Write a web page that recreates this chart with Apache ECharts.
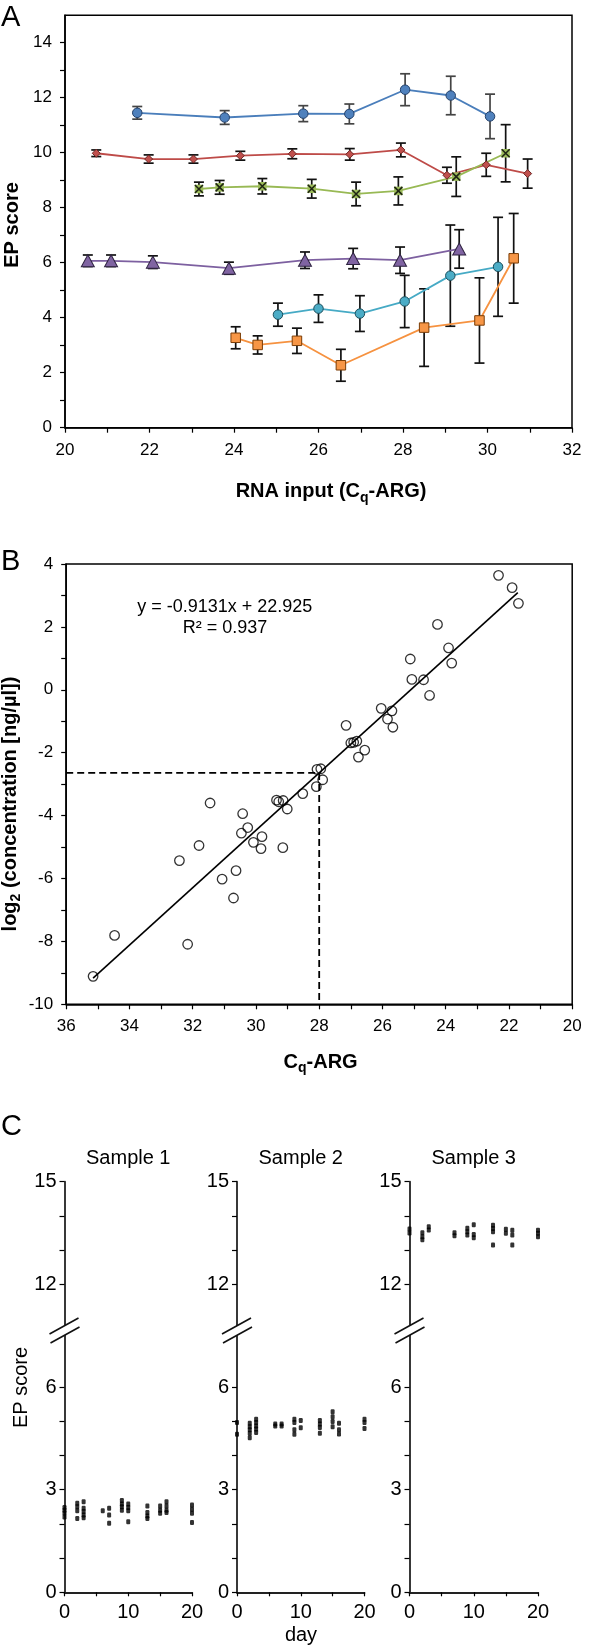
<!DOCTYPE html>
<html><head><meta charset="utf-8">
<script src="https://cdn.jsdelivr.net/npm/echarts@6/dist/echarts.min.js"></script>
<style>html,body{margin:0;padding:0;background:#fff}#c{width:600px;height:1646px}</style>
</head><body><div id="c"></div>
<script>
const F = "'Liberation Sans', Arial, Helvetica, sans-serif";

// ---------- Panel A data ----------
const aXTicks = [20,21,22,23,24,25,26,27,28,29,30,31,32];
const aXLabels = [20,22,24,26,28,30,32];
const aYTicks = [0,1,2,3,4,5,6,7,8,9,10,11,12,13,14];
const aYLabels = [0,2,4,6,8,10,12,14];

const blueX = [21.71, 23.78, 25.64, 26.73, 28.05, 29.13, 30.06];
const blueY = [11.45, 11.28, 11.42, 11.41, 12.29, 12.08, 11.32];
const blueErr = [0.23, 0.25, 0.29, 0.36, 0.58, 0.70, 0.81];

const redX = [20.74, 21.98, 23.04, 24.15, 25.38, 26.74, 27.95, 29.04, 29.97, 30.95];
const redY = [9.98, 9.77, 9.77, 9.89, 9.96, 9.94, 10.10, 9.18, 9.56, 9.24];
const redErr = [0.12, 0.15, 0.15, 0.16, 0.18, 0.21, 0.25, 0.29, 0.42, 0.53];

const greenX = [23.17, 23.66, 24.67, 25.84, 26.89, 27.89, 29.26, 30.43];
const greenY = [8.68, 8.74, 8.78, 8.69, 8.50, 8.61, 9.13, 9.98];
const greenErr = [0.25, 0.25, 0.28, 0.34, 0.43, 0.51, 0.72, 1.04];

const purpleX = [20.54, 21.09, 22.08, 23.88, 25.68, 26.82, 27.93, 29.33];
const purpleY = [6.07, 6.07, 6.02, 5.80, 6.09, 6.15, 6.09, 6.50];
const purpleErr = [0.21, 0.21, 0.23, 0.22, 0.30, 0.37, 0.48, 0.70];

const cyanX = [25.04, 26.00, 26.98, 28.04, 29.12, 30.25];
const cyanY = [4.11, 4.33, 4.15, 4.59, 5.53, 5.85];
const cyanErr = [0.42, 0.50, 0.65, 0.95, 1.84, 1.80];

const orangeX = [24.04, 24.56, 25.49, 26.53, 28.50, 29.81, 30.62];
const orangeY = [3.27, 3.01, 3.16, 2.27, 3.64, 3.90, 6.16];
const orangeErr = [0.40, 0.33, 0.46, 0.58, 1.41, 1.55, 1.63];

// ---------- Panel B data ----------
const bXTicks = [20,21,22,23,24,25,26,27,28,29,30,31,32,33,34,35,36];
const bXLabels = [20,22,24,26,28,30,32,34,36];
const bYTicks = [-10,-9,-8,-7,-6,-5,-4,-3,-2,-1,0,1,2,3,4];
const bYLabels = [-10,-8,-6,-4,-2,0,2,4];

const bCq = [23.91,23.81,25.12,25.07,24.70,24.51,26.04,25.70,25.84,25.67,
             27.15,27.00,26.91,26.81,26.56,26.76,28.07,27.95,27.89,28.09,
             28.52,29.35,29.28,29.14,29.01,31.45,30.42,30.26,30.46,29.81,
             30.08,29.84,29.15,31.80,32.42,30.63,31.07,30.71,34.47,32.16,
             35.15,24.26,22.33,21.90,21.70];
const bLog = [1.33,0.85,0.98,0.33,0.32,-0.18,-0.59,-0.67,-0.93,-1.19,
              -1.13,-1.69,-1.67,-1.63,-1.92,-2.14,-2.53,-2.51,-2.86,-3.08,
              -3.30,-3.51,-3.56,-3.52,-3.79,-3.60,-3.94,-4.38,-4.56,-4.67,
              -4.85,-5.05,-5.02,-4.95,-5.43,-5.75,-6.02,-6.62,-7.81,-8.09,
              -9.11,2.08,3.64,3.25,2.75];
const fitSlope = -0.9131;
const fitIntercept = 22.925;
const fitXRange = [35.15, 21.72];
const cutoffCq = 28;

// ---------- Panel C data ----------
const cXTicks = [0,5,10,15,20];
const cXLabels = [0,10,20];
const cYTickValues = [0,1,2,3,4,5,6,12,13,14,15];
const cYLabelValues = [0,3,6,12,15];
const breakLow = 6, breakHigh = 12, breakGap = 3;
const sampleNames = ['Sample 1','Sample 2','Sample 3'];

const s1Day = [0,0,0,0, 2,2,2,2, 3,3,3,3,3, 6, 7,7,7, 9,9,9,9, 10,10,10,10, 13,13,13,13, 15,15,15, 16,16,16,16, 20,20,20,20];
const s1Score = [2.48,2.40,2.32,2.20, 2.60,2.50,2.38,2.16, 2.65,2.46,2.36,2.26,2.18, 2.38, 2.46,2.26,2.02, 2.68,2.58,2.50,2.40, 2.58,2.48,2.38,2.06, 2.52,2.33,2.23,2.16, 2.52,2.40,2.31, 2.65,2.52,2.40,2.33, 2.55,2.43,2.31,2.04];
const s2Day = [0,0, 2,2,2,2,2, 3,3,3,3,3, 6,6, 7,7, 9,9,9,9, 10,10, 13,13,13,13, 15,15,15,15, 16,16,16, 20,20,20];
const s2Score = [4.96,4.62, 4.94,4.84,4.75,4.65,4.52, 5.06,4.96,4.86,4.77,4.67, 4.92,4.86, 4.92,4.86, 5.06,4.96,4.75,4.62, 5.02,4.81, 5.02,4.92,4.82,4.65, 5.28,5.13,4.99,4.84, 4.94,4.75,4.63, 5.06,4.96,4.79];
const s3Day = [0,0, 2,2,2, 3,3, 7,7, 9,9,9, 10,10,10, 13,13,13,13, 15,15, 16,16,16, 20,20,20];
const s3Score = [13.62,13.50, 13.51,13.39,13.30, 13.68,13.59, 13.51,13.42, 13.64,13.54,13.44, 13.74,13.46,13.36, 13.73,13.63,13.54,13.15, 13.61,13.49, 13.58,13.44,13.15, 13.58,13.49,13.39];

// ---------- helpers ----------
const zip = (xs, ys) => xs.map((x, i) => [x, ys[i]]);
const zip3 = (xs, ys, es) => xs.map((x, i) => [x, ys[i], es[i]]);
const toAxis = v => v <= breakLow ? v : v - (breakHigh - breakLow) + breakGap;
const fromAxis = v => v <= breakLow ? v : v + (breakHigh - breakLow) - breakGap;

function mkAxis(grid, min, max, ticks, labels, o) {
  o = o || {};
  return Object.assign({
    type: 'value', gridIndex: grid, min: min, max: max,
    axisLine: {show: true, onZero: false, lineStyle: {color: o.lineColor || '#000', width: o.lineWidth || 1.5}},
    axisTick: {show: true, length: o.tickLen || 5, customValues: ticks, lineStyle: {color: '#000', width: 1.2}},
    axisLabel: {show: true, customValues: labels, formatter: o.fmt, color: '#000', fontFamily: F,
                fontSize: o.fontSize || 17, margin: o.margin || 14},
    splitLine: {show: false}
  }, o.rest || {});
}

function errSeries(xs, ys, es, color, axisIdx) {
  return {
    type: 'custom', xAxisIndex: axisIdx, yAxisIndex: axisIdx, z: 2,
    data: zip3(xs, ys, es),
    encode: {x: 0, y: 1},
    renderItem: function (params, api) {
      const x = api.value(0), y = api.value(1), e = api.value(2);
      const t = api.coord([x, y + e]), b = api.coord([x, y - e]);
      const w = 5;
      const st = {stroke: color, lineWidth: 1.7};
      return {type: 'group', children: [
        {type: 'line', shape: {x1: t[0], y1: t[1], x2: b[0], y2: b[1]}, style: st},
        {type: 'line', shape: {x1: t[0] - w, y1: t[1], x2: t[0] + w, y2: t[1]}, style: st},
        {type: 'line', shape: {x1: b[0] - w, y1: b[1], x2: b[0] + w, y2: b[1]}, style: st}
      ]};
    }
  };
}

function lineSeries(xs, ys, lineColor, symbol, size, fill, border) {
  return {
    type: 'line', xAxisIndex: 0, yAxisIndex: 0, z: 3,
    data: zip(xs, ys), symbol: symbol, symbolSize: size, showSymbol: true,
    lineStyle: {color: lineColor, width: 1.8},
    itemStyle: {color: fill, borderColor: border, borderWidth: border ? 1 : 0},
    animation: false
  };
}

const chart = echarts.init(document.getElementById('c'), null, {renderer: 'canvas'});

const grids = [
  {left: 65, top: 15.2, width: 507, height: 412.5, show: true, borderColor: '#000', borderWidth: 1.5, backgroundColor: 'transparent'},
  {left: 66.2, top: 564, width: 506, height: 440.3, show: true, borderColor: '#000', borderWidth: 1.5, backgroundColor: 'transparent'},
  {left: 64.5, top: 1181.7, width: 127.5, height: 410.6},
  {left: 237, top: 1181.7, width: 127.5, height: 410.6},
  {left: 409.5, top: 1181.7, width: 128.5, height: 410.6}
];

const xAxes = [
  mkAxis(0, 20, 32, aXTicks, aXLabels, {margin: 14}),
  mkAxis(1, 20, 36, bXTicks, bXLabels, {margin: 14, rest: {inverse: true}}),
];
const yAxes = [
  mkAxis(0, 0, 15, aYTicks, aYLabels, {margin: 13}),
  mkAxis(1, -10, 4, bYTicks, bYLabels, {margin: 13}),
];
for (let i = 0; i < 3; i++) {
  xAxes.push(mkAxis(2 + i, 0, 20, cXTicks, cXLabels, {fontSize: 20, margin: 10, tickLen: 4, lineColor: '#222', lineWidth: 1.8}));
  yAxes.push(mkAxis(2 + i, 0, toAxis(15), cYTickValues.map(toAxis), cYLabelValues.map(toAxis),
    {fontSize: 20, margin: 8, tickLen: 5, lineColor: '#222', lineWidth: 1.8, fmt: v => String(Math.round(fromAxis(v)))}));
}

const fitData = fitXRange.map(x => [x, fitSlope * x + fitIntercept]);
const cutY = fitSlope * cutoffCq + fitIntercept;

const series = [
  errSeries(blueX, blueY, blueErr, '#444', 0),
  errSeries(redX, redY, redErr, '#111', 0),
  errSeries(greenX, greenY, greenErr, '#111', 0),
  errSeries(purpleX, purpleY, purpleErr, '#111', 0),
  errSeries(cyanX, cyanY, cyanErr, '#111', 0),
  errSeries(orangeX, orangeY, orangeErr, '#111', 0),
  lineSeries(blueX, blueY, '#4A7EBB', 'circle', 9.5, '#4F81BD', '#24416A'),
  lineSeries(redX, redY, '#BE4B48', 'diamond', 8, '#C0504D', '#6E2725'),
  lineSeries(greenX, greenY, '#98B954', 'rect', 8.5, '#9BBB59', null),
  {type: 'scatter', xAxisIndex: 0, yAxisIndex: 0, z: 4, data: zip(greenX, greenY),
   symbol: 'path://M0,0L10,10M10,0L0,10', symbolSize: 8,
   itemStyle: {color: 'rgba(0,0,0,0)', borderColor: '#000', borderWidth: 1.6}},
  lineSeries(purpleX, purpleY, '#7D60A0', 'triangle', [13, 12], '#8064A2', '#2E2340'),
  lineSeries(cyanX, cyanY, '#46AAC5', 'circle', 9.5, '#4BACC6', '#1B4E5C'),
  lineSeries(orangeX, orangeY, '#F69240', 'rect', 9.5, '#F79646', '#7A3D07'),
  // Panel B
  {type: 'scatter', xAxisIndex: 1, yAxisIndex: 1, z: 3, data: zip(bCq, bLog),
   symbol: 'circle', symbolSize: 9.5,
   itemStyle: {color: 'rgba(0,0,0,0)', borderColor: '#000', borderWidth: 1.3}},
  {type: 'line', xAxisIndex: 1, yAxisIndex: 1, z: 4, data: fitData, symbol: 'none',
   lineStyle: {color: '#000', width: 1.6}},
  {type: 'line', xAxisIndex: 1, yAxisIndex: 1, z: 4,
   data: [[36, cutY], [cutoffCq, cutY], [cutoffCq, -10]], symbol: 'none',
   lineStyle: {color: '#000', width: 1.8, type: [7, 4]}},
  // Panel C
  {type: 'scatter', xAxisIndex: 2, yAxisIndex: 2, data: zip(s1Day, s1Score.map(toAxis)), symbol: 'roundRect', symbolSize: [4, 5], itemStyle: {color: '#000'}},
  {type: 'scatter', xAxisIndex: 3, yAxisIndex: 3, data: zip(s2Day, s2Score.map(toAxis)), symbol: 'roundRect', symbolSize: [4, 5], itemStyle: {color: '#000'}},
  {type: 'scatter', xAxisIndex: 4, yAxisIndex: 4, data: zip(s3Day, s3Score.map(toAxis)), symbol: 'roundRect', symbolSize: [4, 5], itemStyle: {color: '#000'}}
];

const boldRich = {
  b: {fontSize: 20, fontWeight: 'bold', fontFamily: F, lineHeight: 26, fill: '#000'},
  s: {fontSize: 14, fontWeight: 'bold', fontFamily: F, lineHeight: 14, verticalAlign: 'bottom', fill: '#000'}
};

const texts = [
  {type: 'text', x: 1, y: 18, style: {text: 'A', font: '29px ' + F, fill: '#000', verticalAlign: 'middle'}},
  {type: 'text', x: 1, y: 562, style: {text: 'B', font: '29px ' + F, fill: '#000', verticalAlign: 'middle'}},
  {type: 'text', x: 1, y: 1127, style: {text: 'C', font: '29px ' + F, fill: '#000', verticalAlign: 'middle'}},
  {type: 'text', x: 12.5, y: 225, rotation: Math.PI / 2,
   style: {text: 'EP score', font: 'bold 20px ' + F, fill: '#000', align: 'center', verticalAlign: 'middle'}},
  {type: 'text', x: 331, y: 491.7,
   style: {text: '{b|RNA input (C}{s|q}{b|-ARG)}', rich: boldRich, align: 'center', verticalAlign: 'middle'}},
  {type: 'text', x: 10, y: 804, rotation: Math.PI / 2,
   style: {text: '{b|log}{s|2}{b| (concentration [ng/µl])}', rich: boldRich, align: 'center', verticalAlign: 'middle'}},
  {type: 'text', x: 320.6, y: 1062,
   style: {text: '{b|C}{s|q}{b|-ARG}', rich: boldRich, align: 'center', verticalAlign: 'middle'}},
  {type: 'text', x: 224.7, y: 607,
   style: {text: 'y = -0.9131x + 22.925', font: '18px ' + F, fill: '#000', align: 'center', verticalAlign: 'middle'}},
  {type: 'text', x: 225, y: 628,
   style: {text: 'R² = 0.937', font: '18px ' + F, fill: '#000', align: 'center', verticalAlign: 'middle'}},
  {type: 'text', x: 21, y: 1387.5, rotation: Math.PI / 2,
   style: {text: 'EP score', font: '20px ' + F, fill: '#000', align: 'center', verticalAlign: 'middle'}},
  {type: 'text', x: 301, y: 1635,
   style: {text: 'day', font: '20px ' + F, fill: '#000', align: 'center', verticalAlign: 'middle'}}
];

chart.setOption({
  animation: false,
  backgroundColor: '#fff',
  grid: grids,
  xAxis: xAxes,
  yAxis: yAxes,
  series: series,
  graphic: texts
});

// Sample titles and axis-break marks, positioned through the chart's own axes
const extra = [];
const breakMarkAt = breakLow + breakGap * 0.55;
for (let i = 0; i < 3; i++) {
  const top = chart.convertToPixel({xAxisIndex: 2 + i, yAxisIndex: 2 + i}, [10, toAxis(15)]);
  extra.push({type: 'text', x: top[0], y: 1158,
    style: {text: sampleNames[i], font: '20px ' + F, fill: '#000', align: 'center', verticalAlign: 'middle'}});
  const c = chart.convertToPixel({xAxisIndex: 2 + i, yAxisIndex: 2 + i}, [0, breakMarkAt]);
  const cx = c[0], cy = c[1];
  extra.push({type: 'polygon', z: 100, shape: {points: [[cx - 6, cy - 1.5], [cx + 6, cy - 8.1], [cx + 6, cy + 1.5], [cx - 6, cy + 8.1]]},
    style: {fill: '#fff'}});
  extra.push({type: 'line', z: 101, shape: {x1: cx - 15, y1: cy + 3.5, x2: cx + 14, y2: cy - 12.5}, style: {stroke: '#111', lineWidth: 1.6}});
  extra.push({type: 'line', z: 101, shape: {x1: cx - 14, y1: cy + 12.5, x2: cx + 15, y2: cy - 3.5}, style: {stroke: '#111', lineWidth: 1.6}});
}
chart.setOption({graphic: texts.concat(extra)});
</script></body></html>
